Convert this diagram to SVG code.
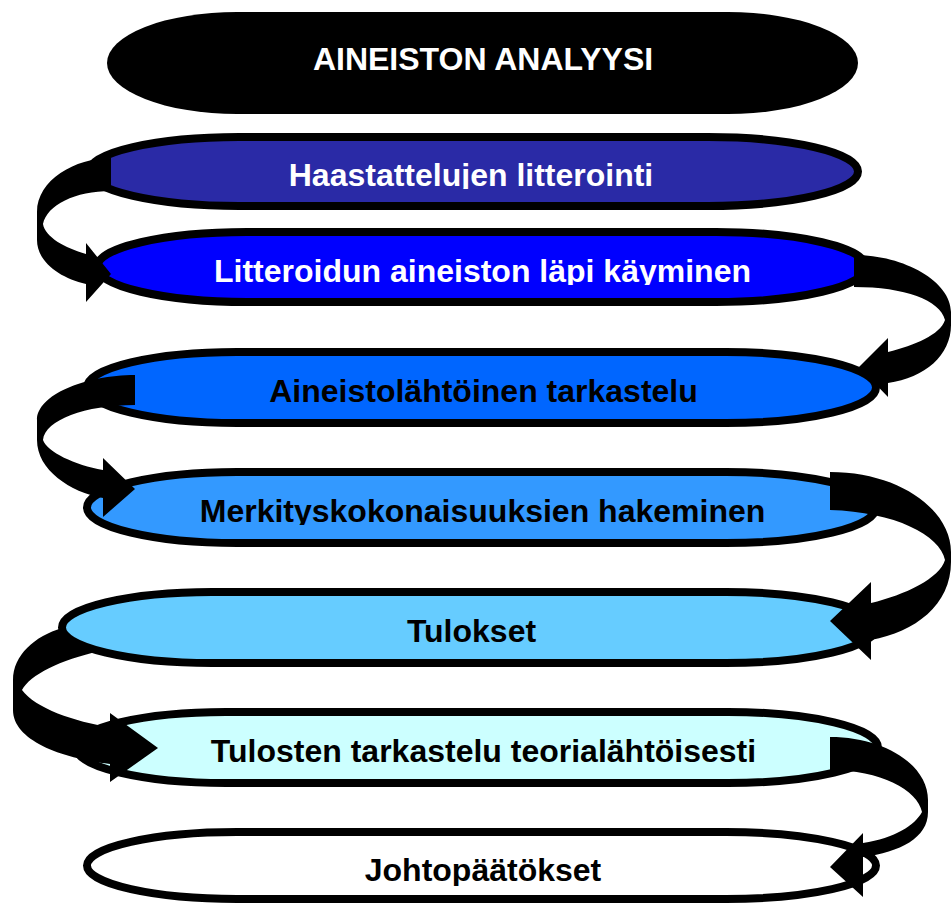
<svg xmlns="http://www.w3.org/2000/svg" width="952" height="904" viewBox="0 0 952 904">
<style>
.pill{stroke:#000;stroke-width:8}
.t{font-family:"Liberation Sans",Arial,sans-serif;font-weight:bold;font-size:32px;text-anchor:middle}
.w{fill:#fff}
.b{fill:#000}
.arr{fill:#000;stroke:none}
</style>
<defs>
<clipPath id="c2"><rect x="0" y="140" width="952" height="49"/></clipPath>
<clipPath id="c3"><rect x="0" y="235" width="952" height="50"/></clipPath>
<clipPath id="c5"><rect x="0" y="475" width="952" height="50"/></clipPath>
<clipPath id="c8"><rect x="0" y="835" width="952" height="51"/></clipPath>
</defs>
<rect width="952" height="904" fill="#fff"/>
<g id="n1">
<rect x="107" y="12" width="751" height="102" rx="130" ry="51" fill="#000"/>
<text class="t w" x="483" y="69.5">AINEISTON ANALYYSI</text>
</g>
<g id="n2">
<rect class="pill" x="89" y="137" width="769" height="69" rx="150" ry="34.5" fill="#2A2AA6"/>
<text class="t w" x="471" y="185.5" clip-path="url(#c2)">Haastattelujen litterointi</text>
</g>
<g id="n3">
<rect class="pill" x="97" y="232" width="769" height="70" rx="150" ry="35" fill="#0000FF"/>
<text class="t w" x="482.5" y="282" clip-path="url(#c3)">Litteroidun aineiston läpi käyminen</text>
</g>
<g id="n4">
<rect class="pill" x="87" y="352" width="789" height="71" rx="150" ry="35.5" fill="#0066FF"/>
<text class="t b" x="483.5" y="401.5">Aineistolähtöinen tarkastelu</text>
</g>
<g id="n5">
<rect class="pill" x="87" y="472" width="789" height="71" rx="150" ry="35.5" fill="#3399FF"/>
<text class="t b" x="482.5" y="521.5" clip-path="url(#c5)">Merkityskokonaisuuksien hakeminen</text>
</g>
<g id="n6">
<rect class="pill" x="62" y="592" width="814" height="71" rx="150" ry="35.5" fill="#66CCFF"/>
<text class="t b" x="471.5" y="641.5">Tulokset</text>
</g>
<g id="n7">
<rect class="pill" x="76" y="712" width="802" height="71" rx="150" ry="35.5" fill="#CCFFFF"/>
<text class="t b" x="483.5" y="761.5">Tulosten tarkastelu teorialähtöisesti</text>
</g>
<g id="n8">
<rect class="pill" x="87" y="832" width="789" height="67" rx="150" ry="33.5" fill="#FFFFFF"/>
<text class="t b" x="483" y="880.5" clip-path="url(#c8)">Johtopäätökset</text>
</g>
<g id="connectors">
<path id="a1" class="arr" d="M111,158 C75,158 37,180 37,212 L37,240 C37,262 60,278 86,284 L86,302 L111,274 L86,243 L86,254 C65,248 45,237 43,224 C47,205 75,191 111,191 Z"/>
<path id="a2" class="arr" d="M854,255 C905,255 951,282 951,312 L951,325 C951,355 925,378 888,383 L888,397 L859,367 L888,338 L888,352 C915,345 940,335 945,320 C940,300 905,287 854,287 Z"/>
<path id="a3" class="arr" d="M135,375 C85,375 37,395 37,420 L37,440 C37,470 70,492 103,498 L103,517 L135,489 L103,458 L103,470 C75,465 47,452 43,440 C45,420 85,405 135,405 Z"/>
<path id="a4" class="arr" d="M830,472 C900,472 951,510 951,552 L951,562 C951,605 915,632 871,640 L871,660 L830,621 L871,582 L871,603 C905,595 940,578 945,560 C940,535 895,512 830,510 Z"/>
<path id="a5" class="arr" d="M62,628 C35,636 13,655 13,680 L13,710 C13,740 60,758 110,764 L110,782 L158,748 L110,713 L110,727 C75,722 35,708 22,690 C30,675 60,660 100,651 A150,35.5 0 0 1 62,627.5 Z"/>
<path id="a6" class="arr" d="M830,737 C885,737 928,765 928,800 L928,812 C928,838 900,852 863,857 L863,897 L830,867 L863,833 L863,843 C895,838 915,825 922,812 C918,790 880,770 830,770 Z"/>
</g>
</svg>
